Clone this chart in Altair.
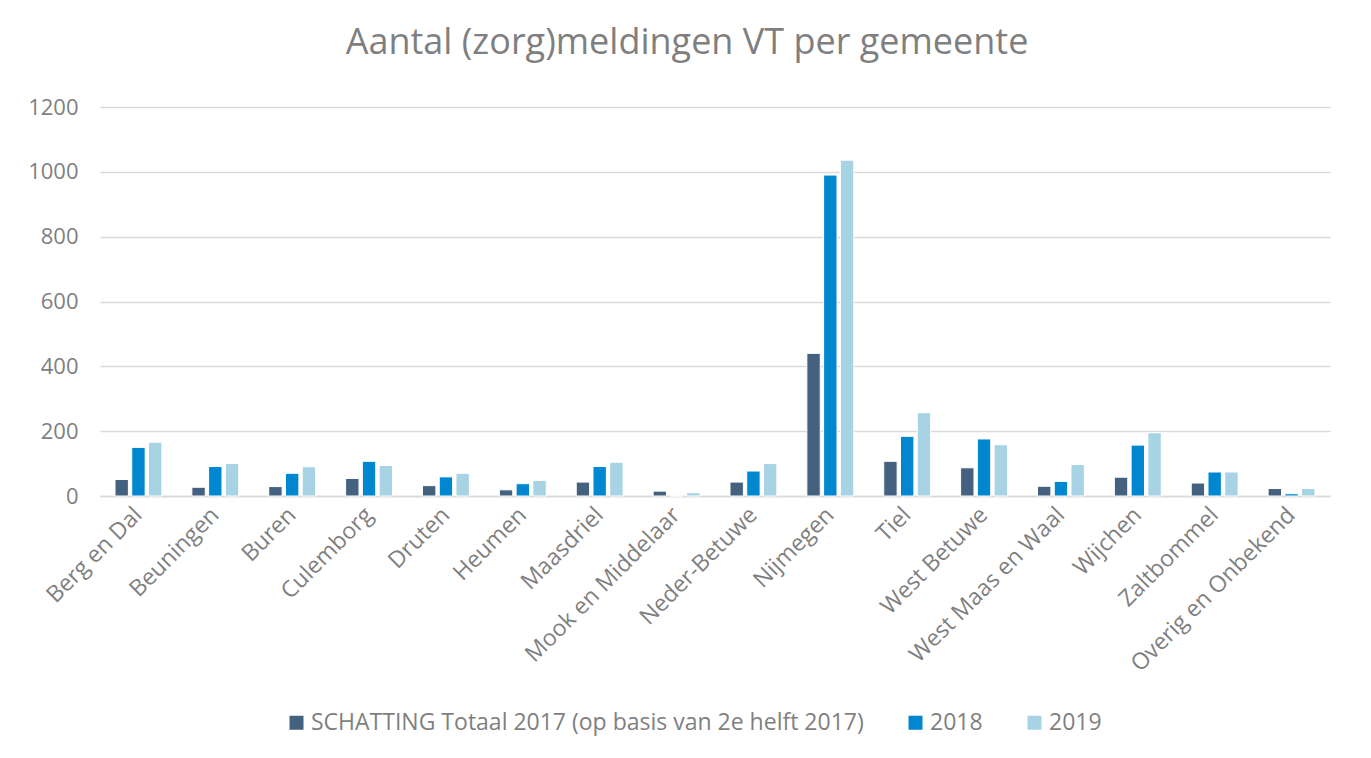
import altair as alt
import pandas as pd

gemeenten = ["Berg en Dal", "Beuningen", "Buren", "Culemborg", "Druten", "Heumen",
             "Maasdriel", "Mook en Middelaar", "Neder-Betuwe", "Nijmegen", "Tiel",
             "West Betuwe", "West Maas en Waal", "Wijchen", "Zaltbommel",
             "Overig en Onbekend"]
schatting_2017 = [51, 27, 29, 54, 32, 19, 43, 15, 43, 440, 107, 87, 30, 58, 40, 23]
waarden_2018 = [150, 91, 70, 107, 59, 38, 91, 0, 77, 990, 184, 176, 45, 157, 74, 7]
waarden_2019 = [166, 100, 90, 94, 70, 48, 104, 10, 100, 1036, 257, 158, 97, 195, 74, 23]
series = ["SCHATTING Totaal 2017 (op basis van 2e helft 2017)", "2018", "2019"]
colors = ["#44617f", "#0087cf", "#a7d3e4"]
y_ticks = [0, 200, 400, 600, 800, 1000, 1200]

rows = []
for i, g in enumerate(gemeenten):
    for s, vals in zip(series, [schatting_2017, waarden_2018, waarden_2019]):
        rows.append({"gemeente": g, "serie": s, "waarde": vals[i]})
df = pd.DataFrame(rows)

FONT = "Open Sans"
GREY = "#7f7f7f"

chart = alt.Chart(df).mark_bar(stroke="white", strokeWidth=1).encode(
    x=alt.X("gemeente:N", sort=gemeenten,
            scale=alt.Scale(paddingInner=0.39, paddingOuter=0.195),
            axis=alt.Axis(title=None, labelAngle=-45, labelAlign="right",
                          labelBaseline="middle", labelPadding=15, ticks=False,
                          domainColor="#d9d9d9", domainWidth=1.5,
                          labelFontSize=23, labelColor=GREY, labelFont=FONT,
                          labelLimit=0, grid=False)),
    xOffset=alt.XOffset("serie:N", sort=series, scale=alt.Scale(paddingInner=0.2)),
    y=alt.Y("waarde:Q", scale=alt.Scale(domain=[0, 1200]),
            axis=alt.Axis(title=None, values=y_ticks, format="d", domain=False,
                          ticks=False, labelPadding=22, labelFontSize=22,
                          labelColor=GREY, labelFont=FONT, gridColor="#d9d9d9",
                          gridWidth=1.3)),
    color=alt.Color("serie:N", sort=series,
                    scale=alt.Scale(domain=series, range=colors),
                    legend=alt.Legend(title=None, orient="none", direction="horizontal",
                                      legendX=185, legendY=604, symbolType="square",
                                      symbolSize=196, symbolStrokeWidth=0,
                                      labelFontSize=23, labelColor=GREY, labelFont=FONT,
                                      labelLimit=0, columnPadding=40, labelOffset=3)),
).properties(
    width=1230, height=389,
    title=alt.TitleParams("Aantal (zorg)meldingen VT per gemeente", fontSize=36,
                          font=FONT, color=GREY, fontWeight="normal", offset=34,
                          anchor="middle", dx=-28),
    autosize=alt.AutoSizeParams(type="none"),
    padding={"left": 92, "top": 99, "right": 33, "bottom": 250},
).configure_view(stroke=None)

chart.save("out.html", embed_options={"renderer": "svg", "actions": False})
